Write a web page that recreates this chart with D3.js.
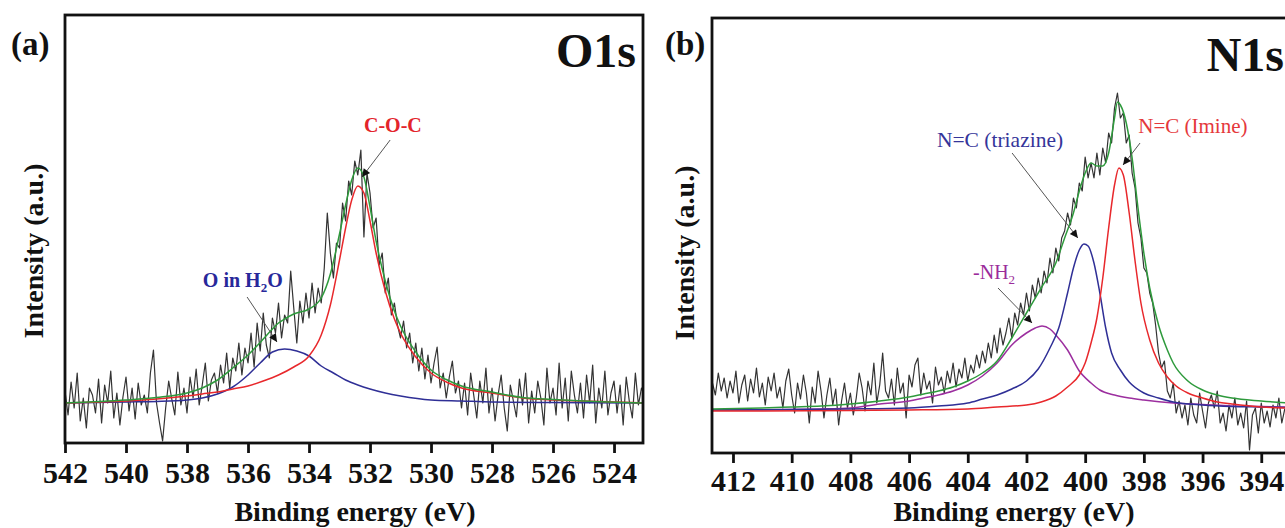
<!DOCTYPE html>
<html>
<head>
<meta charset="utf-8">
<script src="https://cdn.jsdelivr.net/npm/d3@7"></script>
<style>
  body { margin: 0; background: #fff; }
  svg { display: block; font-family: 'Liberation Serif', 'Times New Roman', serif; }
</style>
</head>
<body>
<script>
// ---- O1s data (binding energy eV, intensity a.u.) ----
const o1sTicks = [542, 540, 538, 536, 534, 532, 530, 528, 526, 524];
const o1sRawStart = 542, o1sRawStep = 0.1;
const o1sRaw = [
  52, 28, 61, 35, 70, 22, 45, 15, 55, 48,
  30, 64, 20, 58, 40, 72, 25, 50, 18, 46,
  66, 32, 55, 24, 60, 38, 48, 30, 70, 93,
  40, 20, 2, 35, 62, 44, 28, 71, 38, 55,
  30, 66, 45, 74, 38, 58, 80, 42, 63, 70,
  50, 78, 60, 90, 55, 85, 72, 100, 68, 95,
  80, 110, 76, 120, 92, 130, 98, 85, 125, 110,
  140, 105, 128, 120, 172, 135, 100, 142, 120, 150,
  125, 160, 130, 155, 140, 175, 230, 190, 165, 200,
  195, 240, 222, 262, 248, 282, 268, 293, 206, 270,
  250, 215, 225, 178, 190, 150, 165, 128, 140, 118,
  105, 122, 95, 110, 80, 100, 72, 95, 64, 88,
  60, 80, 96, 55, 70, 45, 66, 82, 50, 62,
  35, 60, 28, 70, 48, 25, 62, 40, 75, 30,
  55, 22, 48, 68, 35, 12, 58, 42, 26, 64,
  38, 70, 20, 52, 30, 62, 45, 18, 75, 40,
  55, 28, 80, 35, 65, 22, 72, 48, 30, 60,
  25, 68, 40, 78, 20, 55, 35, 72, 28, 50,
  62, 30, 58, 18, 66, 42, 25, 70, 38, 55, 48
];
const o1sCOC = [
  [542, 40], [540, 42], [539, 44], [538, 47], [537.5, 49], [537, 51], [536.5, 54],
  [536, 57], [535.5, 62], [535, 68], [534.5, 76], [534, 87], [533.6, 108], [533.3, 138],
  [533, 183], [532.8, 215], [532.6, 243], [532.4, 257], [532.2, 250], [532, 222],
  [531.8, 190], [531.5, 152], [531.2, 124], [531, 110], [530.5, 86], [530, 70],
  [529.5, 61], [529, 55], [528, 50], [527, 45], [526, 43], [525, 42], [523, 40]
];
const o1sH2O = [
  [542, 40], [540, 41], [539, 41.5], [538, 43], [537.5, 45], [537, 49], [536.5, 56],
  [536, 68], [535.6, 80], [535.2, 91], [534.8, 94], [534.4, 92], [534, 87], [533.6, 77],
  [533.2, 70], [532.8, 63], [532.4, 58], [532, 54], [531.5, 50], [531, 47], [530, 43],
  [529, 42], [528, 41], [526, 40.5], [523, 40]
];
const o1sFit = [
  [542, 40], [540, 43], [539, 45.5], [538, 50], [537.5, 55], [537, 63], [536.5, 75],
  [536, 88], [535.5, 104], [535.2, 114], [535, 120], [534.8, 124], [534.5, 129], [534, 134],
  [533.6, 145], [533.3, 169], [533, 209], [532.8, 238], [532.6, 263], [532.4, 275],
  [532.2, 266], [532, 236], [531.8, 202], [531.5, 162], [531.2, 132], [531, 117],
  [530.5, 91], [530, 73], [529.5, 63.5], [529, 57], [528, 51], [527, 45.5], [526, 43.5],
  [525, 42], [523, 40]
];

// ---- N1s data ----
const n1sTicks = [412, 410, 408, 406, 404, 402, 400, 398, 396, 394];
const n1sRawStart = 412.7, n1sRawStep = 0.1;
const n1sRaw = [
  70, 58, 80, 62, 75, 55, 72, 60, 82, 50,
  68, 78, 52, 74, 60, 85, 56, 70, 48, 76,
  62, 80, 55, 66, 45, 72, 84, 58, 40, 70,
  54, 78, 60, 30, 66, 50, 82, 62, 35, 58,
  75, 48, 64, 28, 52, 70, 45, 60, 38, 55,
  80, 65, 42, 72, 58, 90, 50, 68, 100, 62,
  55, 74, 48, 85, 60, 70, 35, 78, 66, 88,
  95, 58, 80, 64, 72, 50, 86, 68, 76, 60,
  82, 70, 90, 66, 84, 75, 95, 72, 88, 80,
  98, 85, 102, 90, 110, 95, 118, 100, 125, 108,
  120, 135, 115, 140, 128, 150, 138, 160, 142, 168,
  155, 175, 160, 182, 170, 195, 180, 205, 192, 215,
  222, 240, 228, 255, 245, 270, 262, 296, 275, 290,
  275, 300, 278, 305, 290, 320, 310, 345, 360, 335,
  340, 310, 318, 280, 265, 230, 215, 185, 180, 160,
  150, 128, 100, 85, 92, 62, 55, 70, 40, 52,
  35, 48, 28, 55, 38, 30, 60, 42, 25, 50,
  58, 45, 62, 30, 40, 22, 48, 35, 55, 28,
  40, 25, 52, 3, 38, 45, 20, 50, 30, 42,
  26, 48, 35, 55, 30, 44, 38
];
const n1sImine = [
  [412.7, 42], [408, 42.5], [406, 43], [404, 44], [403, 46], [402, 48], [401.5, 51],
  [401, 57], [400.6, 66], [400.2, 78], [400, 90], [399.8, 110], [399.6, 135], [399.4, 175],
  [399.2, 225], [399, 268], [398.85, 285], [398.7, 278], [398.5, 240], [398.3, 192],
  [398.1, 150], [397.8, 113], [397.5, 90], [397.2, 76], [396.9, 67], [396.5, 60],
  [396, 55], [395.5, 51], [395, 49], [394, 46], [393.1, 45]
];
const n1sTriazine = [
  [412.7, 43], [410, 43.5], [408, 44], [406, 45], [405, 47], [404, 50], [403.5, 54],
  [403, 58], [402.5, 64], [402, 72], [401.6, 84], [401.2, 105], [400.9, 125], [400.6, 160],
  [400.4, 185], [400.2, 203], [400.04, 209], [399.9, 207], [399.7, 190], [399.5, 160],
  [399.3, 125], [399.1, 100], [398.8, 83], [398.5, 71], [398, 60], [397.5, 55],
  [397, 51], [396, 48], [395, 46.5], [394, 46], [393.1, 45.5]
];
const n1sNH2 = [
  [412.7, 43], [410, 43.5], [409, 44], [408, 45], [407, 49], [406, 52], [405.5, 55],
  [405, 58], [404.5, 62], [404, 68], [403.5, 77], [403, 90], [402.5, 108], [402, 120],
  [401.7, 125], [401.47, 127], [401.2, 124], [401, 118], [400.6, 103], [400.2, 82],
  [399.8, 70], [399.5, 63], [399, 58], [398.5, 55], [398, 53], [397, 50], [396, 48.5],
  [395, 47], [394, 46.5], [393.1, 46]
];
const n1sFit = [
  [412.7, 44], [411, 45], [410, 46], [409, 47], [408, 49], [407, 52], [406, 56],
  [405.5, 59], [405, 62], [404.5, 66], [404, 72], [403.5, 80], [403, 92], [402.5, 115],
  [402, 140], [401.5, 165], [401, 190], [400.7, 215], [400.4, 240], [400.2, 262],
  [400, 280], [399.8, 290], [399.6, 287], [399.4, 287], [399.2, 300], [399, 335],
  [398.9, 351], [398.8, 348], [398.6, 330], [398.4, 295], [398.2, 245], [398, 200],
  [397.8, 165], [397.5, 128], [397.2, 103], [397, 90], [396.5, 72], [396, 63],
  [395.5, 58], [395, 55], [394, 52], [393.1, 50]
];

const W = 1285, H = 528;
const RED = '#e8282c', BLUE = '#2f2f96', GREEN = '#2e9a3c', PURPLE = '#9c2f9f';

const svg = d3.select('body').append('svg')
  .attr('width', W)
  .attr('height', H);

svg.append('defs').append('marker')
  .attr('id', 'arrow')
  .attr('viewBox', '0 0 10 10')
  .attr('refX', 10)
  .attr('refY', 5)
  .attr('markerUnits', 'userSpaceOnUse')
  .attr('markerWidth', 11)
  .attr('markerHeight', 8)
  .attr('orient', 'auto')
  .append('path')
  .attr('d', 'M0,0 L10,5 L0,10 z')
  .attr('fill', '#111');

const panels = [
  {
    id: 'a', left: 65, top: 15, right: 643, bottom: 443,
    xDomain: [542, 523.05], yDomain: [0, 428],
    ticks: o1sTicks, tickPad: 10,
    raw: o1sRaw, rawStart: o1sRawStart, rawStep: o1sRawStep,
    curves: [[o1sH2O, BLUE], [o1sCOC, RED], [o1sFit, GREEN]],
    letter: '(a)', letterX: 11, element: 'O1s', elementX: 636, elementY: 67,
    yTitleX: 43, yTitleY: 251, xTitleX: 355,
    notes: [
      { parts: [['C-O-C']], at: [531.25, 311], anchor: 'middle', color: '#e3242b', weight: 'bold', size: 20,
        from: [531.34, 303], to: [532.26, 266] },
      { parts: [['O in H'], ['2', 'sub'], ['O']], at: [537.48, 156], anchor: 'start', color: '#28289a', weight: 'bold', size: 20,
        from: [536.03, 146], to: [535.05, 101] }
    ]
  },
  {
    id: 'b', left: 712, top: 18, right: 1300, bottom: 453,
    xDomain: [412.715, 392.68], yDomain: [0, 435],
    ticks: n1sTicks, tickPad: 8,
    raw: n1sRaw, rawStart: n1sRawStart, rawStep: n1sRawStep,
    curves: [[n1sNH2, PURPLE], [n1sTriazine, BLUE], [n1sImine, RED], [n1sFit, GREEN]],
    letter: '(b)', letterX: 665, element: 'N1s', elementX: 1284, elementY: 71,
    yTitleX: 694, yTitleY: 253, xTitleX: 1014,
    notes: [
      { parts: [['N=C (triazine)']], at: [405.05, 306], anchor: 'start', color: '#35359a', weight: 'normal', size: 21.5,
        from: [402.49, 300], to: [400.25, 215] },
      { parts: [['N=C (Imine)']], at: [396.33, 320], anchor: 'middle', color: '#e5383b', weight: 'normal', size: 21,
        from: [398.13, 310], to: [398.71, 288] },
      { parts: [['-NH'], ['2', 'sub']], at: [403.82, 174], anchor: 'start', color: '#9b2c9b', weight: 'normal', size: 20,
        from: [402.97, 165], to: [401.81, 130] }
    ]
  }
];

panels.forEach(function(p) {
  var x = d3.scaleLinear().domain(p.xDomain).range([p.left, p.right]);
  var y = d3.scaleLinear().domain(p.yDomain).range([p.bottom, p.top]);
  var g = svg.append('g');

  g.append('clipPath')
    .attr('id', 'clip-' + p.id)
    .append('rect')
    .attr('x', p.left).attr('y', p.top)
    .attr('width', p.right - p.left).attr('height', p.bottom - p.top);

  var plot = g.append('g').attr('clip-path', 'url(#clip-' + p.id + ')');

  var rawLine = d3.line()
    .x((d, i) => x(p.rawStart - i * p.rawStep))
    .y(d => y(d));

  plot.append('path')
    .datum(p.raw)
    .attr('d', rawLine)
    .attr('fill', 'none')
    .attr('stroke', '#333')
    .attr('stroke-width', 1.2)
    .attr('stroke-linejoin', 'round');

  var fitLine = d3.line()
    .x(d => x(d[0]))
    .y(d => y(d[1]))
    .curve(d3.curveMonotoneX);

  p.curves.forEach(function(c) {
    plot.append('path')
      .datum(c[0])
      .attr('d', fitLine)
      .attr('fill', 'none')
      .attr('stroke', c[1])
      .attr('stroke-width', 1.5);
  });

  // frame
  g.append('rect')
    .attr('x', p.left).attr('y', p.top)
    .attr('width', p.right - p.left).attr('height', p.bottom - p.top)
    .attr('fill', 'none')
    .attr('stroke', '#111')
    .attr('stroke-width', 2.8);

  var axis = g.append('g')
    .attr('transform', 'translate(0,' + p.bottom + ')')
    .call(d3.axisBottom(x)
      .tickValues(p.ticks)
      .tickSize(10)
      .tickSizeOuter(0)
      .tickPadding(p.tickPad - 1)
      .tickFormat(d3.format('d')));
  axis.select('.domain').remove();
  axis.selectAll('line').attr('stroke', '#111').attr('stroke-width', 2.8);
  axis.selectAll('text')
    .attr('fill', '#111')
    .style('font-size', '30px')
    .style('font-weight', 'bold')
    .style('font-family', "'Liberation Serif', 'Times New Roman', serif");

  svg.append('text')
    .attr('x', p.xTitleX).attr('y', 521)
    .attr('text-anchor', 'middle')
    .style('font-size', '28px').style('font-weight', 'bold')
    .attr('fill', '#111')
    .text('Binding energy (eV)');

  svg.append('text')
    .attr('transform', 'translate(' + p.yTitleX + ',' + p.yTitleY + ')rotate(-90)')
    .attr('text-anchor', 'middle')
    .style('font-size', '28px').style('font-weight', 'bold')
    .attr('fill', '#111')
    .text('Intensity (a.u.)');

  svg.append('text')
    .attr('x', p.letterX).attr('y', 55)
    .style('font-size', '33px').style('font-weight', 'bold')
    .attr('fill', '#111')
    .text(p.letter);

  svg.append('text')
    .attr('x', p.elementX).attr('y', p.elementY)
    .attr('text-anchor', 'end')
    .style('font-size', '48px').style('font-weight', 'bold')
    .attr('fill', '#111')
    .text(p.element);

  // peak labels with arrows
  p.notes.forEach(function(n) {
    g.append('line')
      .attr('x1', x(n.from[0])).attr('y1', y(n.from[1]))
      .attr('x2', x(n.to[0])).attr('y2', y(n.to[1]))
      .attr('stroke', '#555')
      .attr('stroke-width', 1)
      .attr('marker-end', 'url(#arrow)');

    var t = g.append('text')
      .attr('x', x(n.at[0])).attr('y', y(n.at[1]))
      .attr('text-anchor', n.anchor)
      .attr('fill', n.color)
      .style('font-size', n.size + 'px')
      .style('font-weight', n.weight);
    var shifted = false;
    n.parts.forEach(function(part) {
      var s = t.append('tspan').text(part[0]);
      if (part[1] === 'sub') {
        s.attr('dy', 5).style('font-size', '13px');
        shifted = true;
      } else if (shifted) {
        s.attr('dy', -5);
        shifted = false;
      }
    });
  });
});
</script>
</body>
</html>
